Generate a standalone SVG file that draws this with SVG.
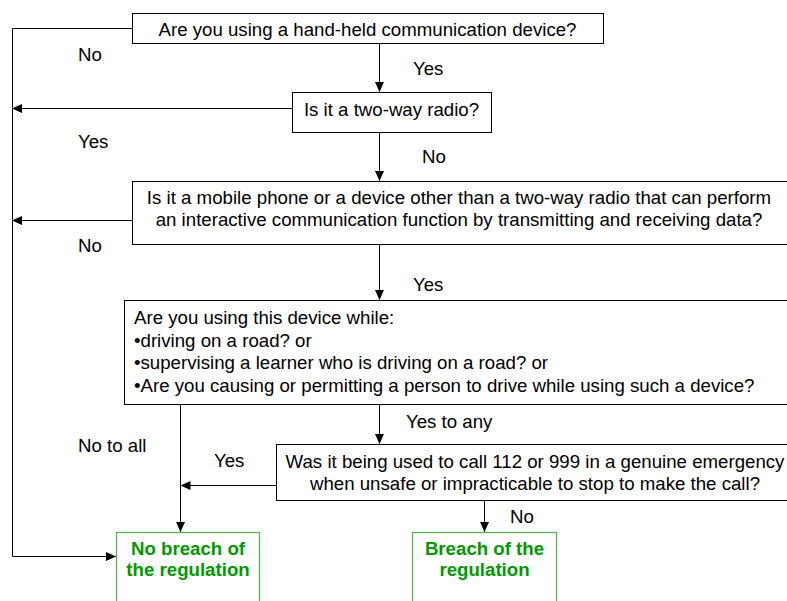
<svg xmlns="http://www.w3.org/2000/svg" width="787" height="601" viewBox="0 0 787 601">
<defs>
<marker id="ah" markerUnits="userSpaceOnUse" markerWidth="10" markerHeight="10" refX="10" refY="4.5" orient="auto">
<path d="M0,0 L10,4.5 L0,9 z" fill="#000"/>
</marker>
<style>
.box{fill:#fff;stroke:#000;stroke-width:1}
.gbox{fill:#fff;stroke:#4fb04f;stroke-width:1.2}
.t{font-family:"Liberation Sans",Arial,sans-serif;font-size:18.67px;fill:#000}
.c{text-anchor:middle}
.g{font-family:"Liberation Sans",Arial,sans-serif;font-size:18.67px;font-weight:bold;fill:#009900;text-anchor:middle}
.ln{fill:none;stroke:#000;stroke-width:1}
</style>
</defs>
<rect width="787" height="601" fill="#fff"/>
<g id="connectors">
<path class="ln" d="M132,28.5 H12.5 V556.5 H116" marker-end="url(#ah)"/>
<path class="ln" d="M379.5,43 V92" marker-end="url(#ah)"/>
<path class="ln" d="M292,108.5 H12" marker-end="url(#ah)"/>
<path class="ln" d="M379.5,132 V181" marker-end="url(#ah)"/>
<path class="ln" d="M132,220.5 H12" marker-end="url(#ah)"/>
<path class="ln" d="M379.5,244 V300" marker-end="url(#ah)"/>
<path class="ln" d="M180.5,404 V532" marker-end="url(#ah)"/>
<path class="ln" d="M379.5,404 V444" marker-end="url(#ah)"/>
<path class="ln" d="M276,485.5 H180.5" marker-end="url(#ah)"/>
<path class="ln" d="M484.5,500 V532" marker-end="url(#ah)"/>
<text class="t" x="78" y="60.5">No</text>
<text class="t" x="413" y="75">Yes</text>
<text class="t" x="78" y="148">Yes</text>
<text class="t" x="422" y="163">No</text>
<text class="t" x="78" y="252">No</text>
<text class="t" x="413" y="291">Yes</text>
<text class="t" x="406" y="428">Yes to any</text>
<text class="t" x="78" y="452">No to all</text>
<text class="t" x="214" y="467">Yes</text>
<text class="t" x="510" y="523">No</text>
</g>
<g id="q1">
<rect class="box" x="132.5" y="13.5" width="471" height="30"/>
<text class="t c" x="367.5" y="36">Are you using a hand-held communication device?</text>
</g>
<g id="q2">
<rect class="box" x="292.5" y="92.5" width="199" height="40"/>
<text class="t c" x="391.5" y="116">Is it a two-way radio?</text>
</g>
<g id="q3">
<rect class="box" x="132.5" y="181.5" width="700" height="63"/>
<text class="t c" x="459" y="204">Is it a mobile phone or a device other than a two-way radio that can perform</text>
<text class="t c" x="459" y="226">an interactive communication function by transmitting and receiving data?</text>
</g>
<g id="q4">
<rect class="box" x="124.5" y="300.5" width="700" height="104"/>
<text class="t" x="134" y="324">Are you using this device while:</text>
<text class="t" x="134" y="346.5">•driving on a road? or</text>
<text class="t" x="134" y="369">•supervising a learner who is driving on a road? or</text>
<text class="t" x="134" y="391.5">•Are you causing or permitting a person to drive while using such a device?</text>
</g>
<g id="q5">
<rect class="box" x="276.5" y="444.5" width="600" height="56"/>
<text class="t c" x="535" y="468">Was it being used to call 112 or 999 in a genuine emergency</text>
<text class="t c" x="535" y="490">when unsafe or impracticable to stop to make the call?</text>
</g>
<g id="noBreach">
<rect class="gbox" x="116.5" y="532.5" width="143" height="100"/>
<text class="g" x="188" y="555">No breach of</text>
<text class="g" x="188" y="576">the regulation</text>
</g>
<g id="breach">
<rect class="gbox" x="412.5" y="532.5" width="144" height="100"/>
<text class="g" x="484.5" y="555">Breach of the</text>
<text class="g" x="484.5" y="576">regulation</text>
</g>
</svg>
